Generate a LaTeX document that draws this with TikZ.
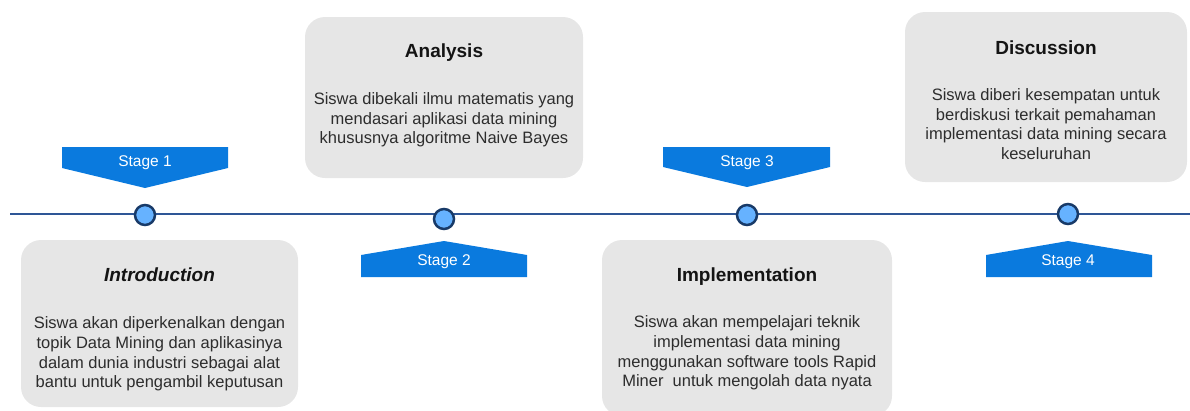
\documentclass[tikz,border=0pt]{standalone}
\usepackage{fontspec}
\setmainfont{Liberation Sans}
\definecolor{boxgrey}{RGB}{230,230,230}
\definecolor{stageblue}{RGB}{10,122,222}
\definecolor{dotfill}{RGB}{102,178,255}
\definecolor{dotline}{RGB}{24,58,104}
\definecolor{tlinecol}{RGB}{46,86,150}
\definecolor{bodytext}{RGB}{45,45,45}
\definecolor{titletext}{RGB}{20,20,20}
\begin{document}
\begin{tikzpicture}[x=1pt,y=-1pt,
  card/.style={fill=boxgrey, rounded corners=20pt, draw=none, inner sep=0pt},
  cardtitle/.style={font=\fontsize{19}{23}\selectfont\bfseries, text=titletext, inner sep=0pt},
  cardbody/.style={font=\fontsize{16.5}{19.6}\selectfont, text=bodytext, align=center, inner sep=0pt},
  stagelabel/.style={font=\fontsize{15.5}{18}\selectfont, text=white, inner sep=0pt},
  dot/.style={circle, fill=dotfill, draw=dotline, line width=2.5pt, minimum size=20pt, inner sep=0pt},
  stageshape/.style={fill=stageblue, draw=none},
  timeline/.style={draw=tlinecol, line width=2pt}]
\useasboundingbox (0,0) rectangle (1190,410);

% cards
\node[card, minimum width=277pt, minimum height=167pt] (introbox) at (159.5,323.5) {};
\node[card, minimum width=278pt, minimum height=161pt] (analysisbox) at (444,97.5) {};
\node[card, minimum width=290pt, minimum height=176pt] (implbox) at (747,328) {};
\node[card, minimum width=282pt, minimum height=170pt] (discbox) at (1046,97) {};

% titles
\node[cardtitle, font=\fontsize{19}{23}\selectfont\bfseries\itshape] (introtitle) at (159.5,275) {Introduction};
\node[cardtitle] (analysistitle) at (444,53) {Analysis};
\node[cardtitle] (impltitle) at (747,277) {Implementation};
\node[cardtitle] (disctitle) at (1046,48) {Discussion};

% bodies
\node[cardbody] (introbody) at (159.5,354) {Siswa akan diperkenalkan dengan\\topik Data Mining dan aplikasinya\\dalam dunia industri sebagai alat\\bantu untuk pengambil keputusan};
\node[cardbody] (analysisbody) at (444,120) {Siswa dibekali ilmu matematis yang\\mendasari aplikasi data mining\\khususnya algoritme Naive Bayes};
\node[cardbody] (implbody) at (747,353) {Siswa akan mempelajari teknik\\implementasi data mining\\menggunakan software tools Rapid\\Miner\ \ untuk mengolah data nyata};
\node[cardbody] (discbody) at (1046,124) {Siswa diberi kesempatan untuk\\berdiskusi terkait pemahaman\\implementasi data mining secara\\keseluruhan};

% timeline
\coordinate (tl) at (10,214);
\coordinate (tr) at (1190,214);
\draw[timeline] (tl) -- (tr);

% stage shapes
\fill[stageshape] (62,147) -- (228,147) -- (228,168) -- (145,188) -- (62,168) -- cycle;
\fill[stageshape] (361,277) -- (527,277) -- (527,255) -- (444,241) -- (361,255) -- cycle;
\fill[stageshape] (663,147) -- (830,147) -- (830,167) -- (747,187) -- (663,167) -- cycle;
\fill[stageshape] (986,277) -- (1152,277) -- (1152,255) -- (1068,241) -- (986,255) -- cycle;

\node[stagelabel] (s1) at (145,163) {Stage 1};
\node[stagelabel] (s2) at (444,262) {Stage 2};
\node[stagelabel] (s3) at (747,163) {Stage 3};
\node[stagelabel] (s4) at (1068,262) {Stage 4};

% dots
\node[dot] (d1) at (145,215) {};
\node[dot] (d2) at (444,219) {};
\node[dot] (d3) at (747,215) {};
\node[dot] (d4) at (1068,214) {};
\end{tikzpicture}
\end{document}
